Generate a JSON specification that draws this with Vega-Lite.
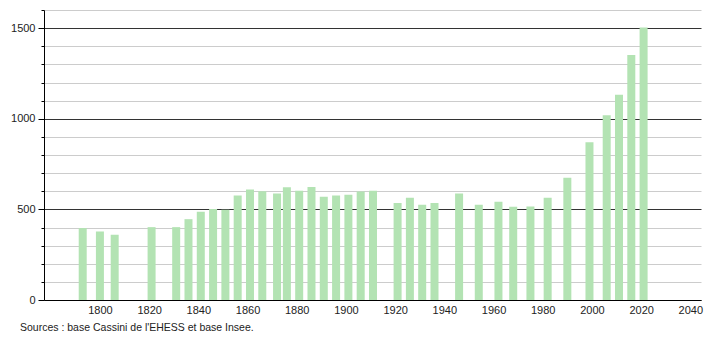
{
  "$schema": "https://vega.github.io/schema/vega-lite/v6.json",
  "width": 657,
  "height": 290,
  "autosize": {"type": "none"},
  "padding": {"left": 44, "top": 10, "right": 9, "bottom": 40},
  "background": "white",
  "config": {"view": {"stroke": null}, "font": "Liberation Sans"},
  "title": {
    "text": "Sources : base Cassini de l'EHESS et base Insee.",
    "orient": "bottom",
    "anchor": "start",
    "frame": "group",
    "dx": -24,
    "offset": 8,
    "fontSize": 10.5,
    "fontWeight": "normal",
    "color": "#222",
    "font": "Liberation Sans"
  },
  "data": {
    "values": [
      {"year": 1793, "pop": 397},
      {"year": 1800, "pop": 378},
      {"year": 1806, "pop": 360},
      {"year": 1821, "pop": 402},
      {"year": 1831, "pop": 402},
      {"year": 1836, "pop": 446},
      {"year": 1841, "pop": 487},
      {"year": 1846, "pop": 502},
      {"year": 1851, "pop": 498},
      {"year": 1856, "pop": 576},
      {"year": 1861, "pop": 609},
      {"year": 1866, "pop": 600},
      {"year": 1872, "pop": 587},
      {"year": 1876, "pop": 622},
      {"year": 1881, "pop": 603},
      {"year": 1886, "pop": 624},
      {"year": 1891, "pop": 570},
      {"year": 1896, "pop": 576},
      {"year": 1901, "pop": 581},
      {"year": 1906, "pop": 598},
      {"year": 1911, "pop": 603},
      {"year": 1921, "pop": 535},
      {"year": 1926, "pop": 564},
      {"year": 1931, "pop": 526},
      {"year": 1936, "pop": 535},
      {"year": 1946, "pop": 587},
      {"year": 1954, "pop": 526},
      {"year": 1962, "pop": 542},
      {"year": 1968, "pop": 515},
      {"year": 1975, "pop": 516},
      {"year": 1982, "pop": 564},
      {"year": 1990, "pop": 675},
      {"year": 1999, "pop": 871},
      {"year": 2006, "pop": 1020},
      {"year": 2011, "pop": 1133},
      {"year": 2016, "pop": 1352},
      {"year": 2021, "pop": 1503}
    ]
  },
  "mark": {"type": "bar", "size": 8, "color": "#b3e3b3"},
  "encoding": {
    "x": {
      "field": "year",
      "type": "quantitative",
      "scale": {"domain": [1779.3, 2042.3], "nice": false, "zero": false},
      "axis": {
        "title": null,
        "values": [1800, 1820, 1840, 1860, 1880, 1900, 1920, 1940, 1960, 1980, 2000, 2020, 2040],
        "format": "d",
        "grid": false,
        "ticks": false,
        "domainColor": "#000",
        "domainWidth": 1,
        "labelFontSize": 11,
        "labelColor": "#222",
        "labelPadding": 4,
        "labelFont": "Liberation Sans",
        "labelOverlap": false,
        "labelFlush": false
      }
    },
    "y": {
      "field": "pop",
      "type": "quantitative",
      "scale": {"domain": [0, 1600], "nice": false},
      "axis": {
        "title": null,
        "values": [0, 100, 200, 300, 400, 500, 600, 700, 800, 900, 1000, 1100, 1200, 1300, 1400, 1500, 1600],
        "labelExpr": "datum.value % 500 === 0 ? datum.label : ''",
        "format": "d",
        "grid": true,
        "gridColor": {"condition": {"test": "datum.value % 500 === 0", "value": "#333333"}, "value": "#cccccc"},
        "gridWidth": 1,
        "tickColor": "#000",
        "tickSize": {"condition": {"test": "datum.value % 500 === 0", "value": 6}, "value": 3},
        "domainColor": "#000",
        "labelFontSize": 11,
        "labelColor": "#222",
        "labelPadding": 3,
        "labelFont": "Liberation Sans",
        "labelOverlap": false
      }
    }
  }
}
